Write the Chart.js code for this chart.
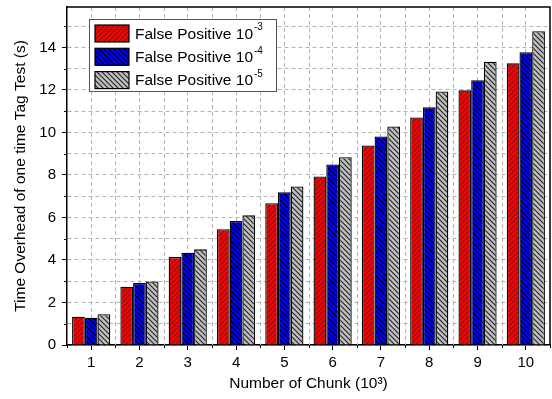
<!DOCTYPE html>
<html lang="en">
<head>
<meta charset="UTF-8">
<title>Time Overhead of one time Tag Test</title>
<script src="https://cdn.jsdelivr.net/npm/chart.js"></script>
<style>
    body { margin: 0; padding: 0; background: #fff; }
    .chart-box { position: relative; width: 552px; height: 399px; }
</style>
</head>
<body>
<div class="chart-box">
    <canvas id="tagChart"></canvas>
</div>
<script>
    // data
    const chunks = ['1', '2', '3', '4', '5', '6', '7', '8', '9', '10'];
    const fp3 = [1.33, 2.74, 4.14, 5.45, 6.67, 7.93, 9.39, 10.70, 11.98, 13.25];
    const fp4 = [1.28, 2.92, 4.34, 5.83, 7.18, 8.49, 9.81, 11.18, 12.45, 13.77];
    const fp5 = [1.45, 2.99, 4.50, 6.10, 7.46, 8.83, 10.28, 11.93, 13.33, 14.76];
    const seriesNames = ['False Positive 10', 'False Positive 10', 'False Positive 10'];
    const seriesExp = ['-3', '-4', '-5'];

    const FONT = '"Liberation Sans", Arial, sans-serif';

    // hatch fill for the bars
    function hatch(bg, fg, dir) {
        const s = 5;
        const c = document.createElement('canvas');
        c.width = s; c.height = s;
        const x = c.getContext('2d');
        x.fillStyle = bg;
        x.fillRect(0, 0, s, s);
        x.strokeStyle = fg;
        x.lineWidth = 1.1;
        x.beginPath();
        if (dir === '/') {
            x.moveTo(0, s); x.lineTo(s, 0);
            x.moveTo(-1, 1); x.lineTo(1, -1);
            x.moveTo(s - 1, s + 1); x.lineTo(s + 1, s - 1);
        } else {
            x.moveTo(0, 0); x.lineTo(s, s);
            x.moveTo(s - 1, -1); x.lineTo(s + 1, 1);
            x.moveTo(-1, s - 1); x.lineTo(1, s + 1);
        }
        x.stroke();
        return x.createPattern(c, 'repeat');
    }

    const fills = [
        hatch('#ff0000', '#6b1a1a', '/'),
        hatch('#0000ff', '#000000', '\\'),
        hatch('#c0c0c0', '#222222', '\\')
    ];

    // minor grid / minor ticks / frame / legend
    const extras = {
        id: 'extras',
        beforeDatasetsDraw(chart) {
            const ctx = chart.ctx;
            const xs = chart.scales.x;
            const a = chart.chartArea;
            ctx.save();
            ctx.strokeStyle = '#b4b4b4';
            ctx.lineWidth = 1;
            ctx.setLineDash([4, 3]);
            for (let i = 0; i < chunks.length - 1; i++) {
                const px = Math.round((xs.getPixelForTick(i) + xs.getPixelForTick(i + 1)) / 2) + 0.5;
                ctx.beginPath();
                ctx.moveTo(px, a.top);
                ctx.lineTo(px, a.bottom);
                ctx.stroke();
            }
            ctx.restore();
        },
        afterDatasetsDraw(chart) {
            const ctx = chart.ctx;
            const xs = chart.scales.x;
            const ys = chart.scales.y;
            const a = chart.chartArea;
            ctx.save();
            ctx.strokeStyle = '#000';
            ctx.lineWidth = 1.5;
            // frame top/right
            ctx.beginPath();
            ctx.moveTo(a.left, a.top);
            ctx.lineTo(a.right, a.top);
            ctx.lineTo(a.right, a.bottom);
            ctx.stroke();
            // minor ticks
            ctx.lineWidth = 1;
            ctx.beginPath();
            for (let v = 1; v < 16; v += 2) {
                const py = Math.round(ys.getPixelForValue(v)) + 0.5;
                ctx.moveTo(a.left - 3, py);
                ctx.lineTo(a.left, py);
            }
            for (let i = 0; i <= chunks.length; i++) {
                let px;
                if (i === 0) px = a.left;
                else if (i === chunks.length) px = a.right;
                else px = (xs.getPixelForTick(i - 1) + xs.getPixelForTick(i)) / 2;
                px = Math.round(px) + 0.5;
                ctx.moveTo(px, a.bottom);
                ctx.lineTo(px, a.bottom + 3);
            }
            ctx.stroke();
            ctx.restore();
        },
        afterDraw(chart) {
            const ctx = chart.ctx;
            const bx = 89.5, by = 19.5, bw = 187, bh = 72;
            ctx.save();
            ctx.fillStyle = '#fff';
            ctx.fillRect(bx, by, bw, bh);
            ctx.strokeStyle = '#555';
            ctx.lineWidth = 1;
            ctx.strokeRect(bx, by, bw, bh);
            chart.data.datasets.forEach((ds, i) => {
                const cy = 33.5 + i * 23.3;
                ctx.fillStyle = ds.backgroundColor;
                ctx.fillRect(95, cy - 8.5, 34, 17);
                ctx.strokeStyle = '#000';
                ctx.lineWidth = 1.2;
                ctx.strokeRect(95, cy - 8.5, 34, 17);
                ctx.fillStyle = '#000';
                ctx.textBaseline = 'middle';
                ctx.textAlign = 'left';
                ctx.font = '15.5px ' + FONT;
                ctx.fillText(seriesNames[i], 135, cy + 1);
                const w = ctx.measureText(seriesNames[i]).width;
                ctx.font = '10px ' + FONT;
                ctx.fillText(seriesExp[i], 135 + w + 1, cy - 6);
            });
            ctx.restore();
        }
    };

    const ctx = document.getElementById('tagChart').getContext('2d');
    new Chart(ctx, {
        type: 'bar',
        data: {
            labels: chunks,
            datasets: [
                { label: 'False Positive 10^-3', data: fp3, backgroundColor: fills[0] },
                { label: 'False Positive 10^-4', data: fp4, backgroundColor: fills[1] },
                { label: 'False Positive 10^-5', data: fp5, backgroundColor: fills[2] }
            ].map(d => Object.assign(d, {
                borderColor: '#000',
                borderWidth: 1.3,
                borderSkipped: 'bottom',
                barPercentage: 1.0,
                categoryPercentage: 0.79
            }))
        },
        options: {
            responsive: true,
            maintainAspectRatio: false,
            animation: false,
            layout: { padding: { top: 7, right: 2, left: 0, bottom: 0 } },
            font: { family: FONT },
            plugins: {
                legend: { display: false },
                tooltip: { enabled: false }
            },
            scales: {
                x: {
                    offset: true,
                    grid: {
                        offset: false,
                        color: '#b4b4b4',
                        tickColor: '#000',
                        tickLength: 5,
                        tickBorderDash: []
                    },
                    border: { color: '#000', width: 1.5, dash: [4, 3] },
                    ticks: { color: '#000', font: { family: FONT, size: 15 }, padding: 4 },
                    title: {
                        display: true,
                        text: 'Number of Chunk (10³)',
                        color: '#000',
                        font: { family: FONT, size: 15.5 },
                        padding: { top: 2, bottom: 6 }
                    },
                    afterFit(scale) {
                        scale.height = 54;
                        scale.paddingLeft = 0;
                        scale.paddingRight = 0;
                    }
                },
                y: {
                    min: 0,
                    max: 15.9,
                    grid: {
                        color: '#b4b4b4',
                        tickColor: c => (c.tick && c.tick.value % 2 === 0) ? '#000' : 'rgba(0,0,0,0)',
                        tickLength: 5,
                        tickBorderDash: []
                    },
                    border: { color: '#000', width: 1.5, dash: [4, 3] },
                    ticks: {
                        stepSize: 1,
                        includeBounds: false,
                        color: '#000',
                        font: { family: FONT, size: 15 },
                        padding: 6,
                        callback: v => (v % 2 === 0 ? v : '')
                    },
                    title: {
                        display: true,
                        text: 'Time Overhead of one time Tag Test (s)',
                        color: '#000',
                        font: { family: FONT, size: 15.5 },
                        padding: { top: 11, bottom: 0 }
                    },
                    afterFit(scale) {
                        scale.width = 67;
                        scale.paddingTop = 0;
                        scale.paddingBottom = 0;
                    }
                }
            }
        },
        plugins: [extras]
    });
</script>
</body>
</html>
